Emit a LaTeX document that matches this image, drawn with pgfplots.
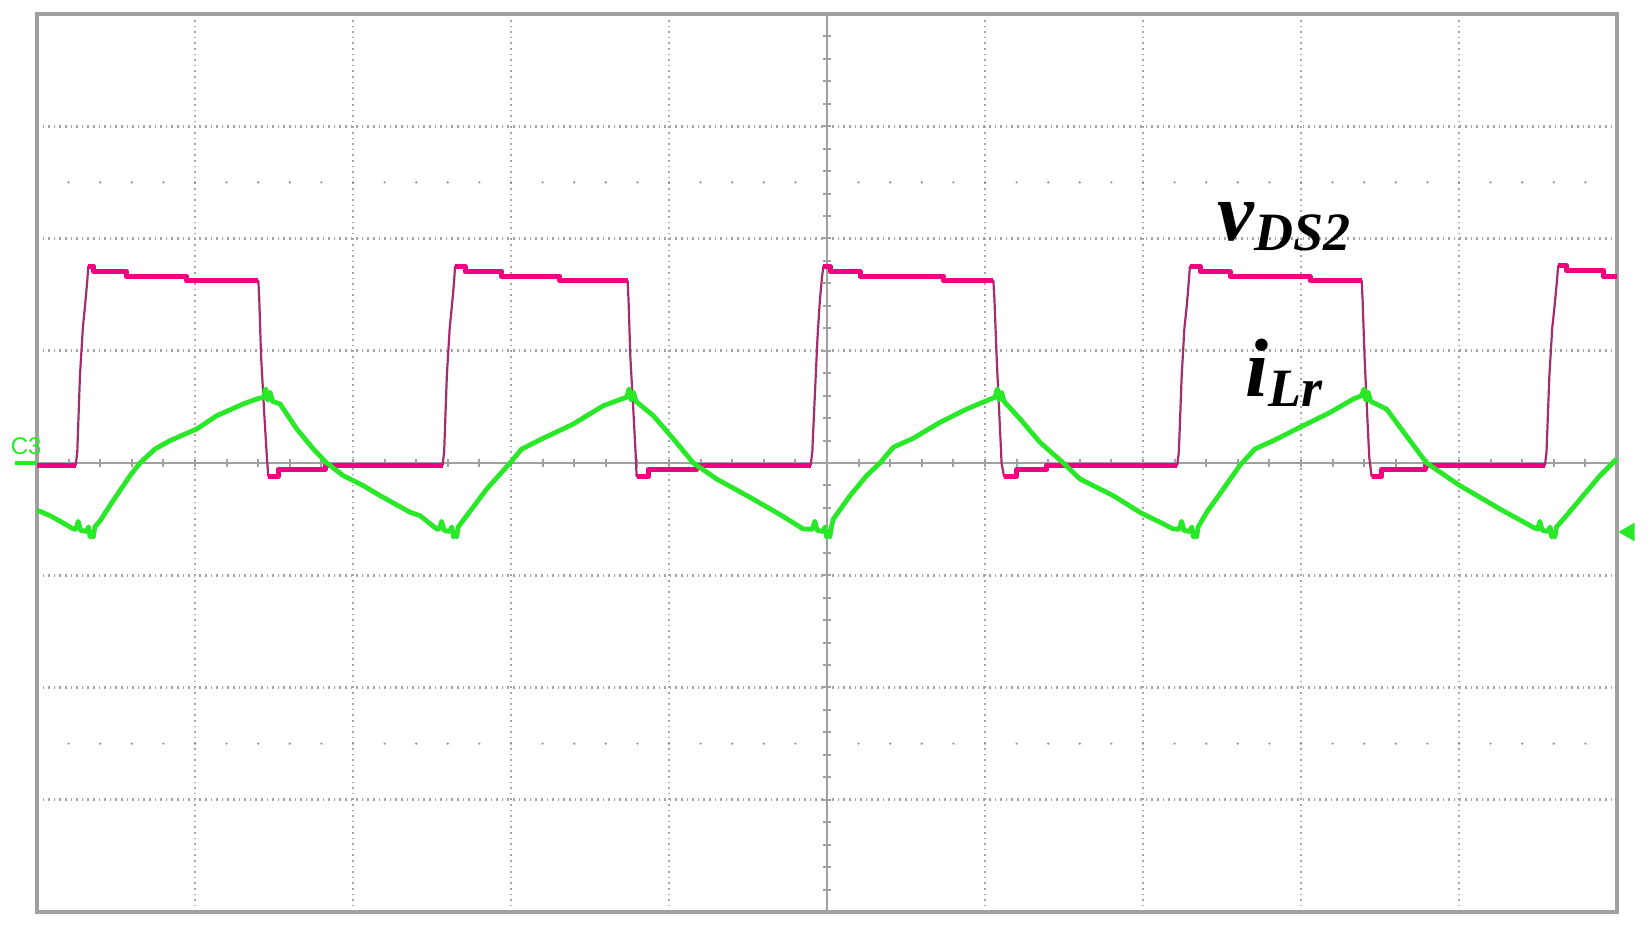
\documentclass[border=0pt]{standalone}
\usepackage{pgfplots}
\pgfplotsset{compat=1.18}
\usepackage{fontspec}
\setmainfont{Liberation Serif}
\setsansfont{Liberation Sans}
\definecolor{trmag}{RGB}{240,0,128}
\definecolor{trmauve}{RGB}{165,45,110}
\definecolor{trgreen}{RGB}{40,232,40}
\definecolor{gridgray}{RGB}{165,165,165}
\definecolor{boxgray}{RGB}{160,160,160}
\definecolor{dotgray}{RGB}{140,140,140}
\begin{document}
\begin{tikzpicture}
\begin{axis}[
  scale only axis, width=395pt, height=224.5pt,
  xmin=0, xmax=10, ymin=-4, ymax=4,
  xtick={1,...,9}, ytick={-3,...,3},
  xticklabels={}, yticklabels={},
  major tick length=0pt,
  grid=major,
  major grid style={densely dotted, gridgray, line width=0.65pt},
  axis line style={boxgray, line width=0.8pt},
  clip=false,
  unbounded coords=jump,
]
% dotted rows at +-2.5 div
\addplot[dotgray, line width=0.6pt, line cap=round, dash pattern=on 0pt off 7.9pt] coordinates {(0.2,2.5) (9.8,2.5)};
\addplot[dotgray, line width=0.6pt, line cap=round, dash pattern=on 0pt off 7.9pt] coordinates {(0.2,-2.5) (9.8,-2.5)};
% centre cross with minor ticks
\addplot[boxgray, line width=0.7pt] coordinates {(0,0) (10,0)};
\addplot[boxgray, line width=2pt, dash pattern=on 0.5pt off 7.4pt, dash phase=0.25pt] coordinates {(0,0) (10,0)};
\addplot[boxgray, line width=0.7pt] coordinates {(5,-4) (5,4)};
\addplot[boxgray, line width=2pt, dash pattern=on 0.5pt off 5.1125pt, dash phase=0.25pt] coordinates {(5,-4) (5,4)};

% v_DS2 thin full trace
\addplot[trmauve, line width=0.55pt, line join=round] coordinates {
(0,-0.02) (0.245,-0.02) (0.255,0.1) (0.272,0.78) (0.29,1.2) (0.304,1.40) (0.318,1.62) (0.325,1.752) (0.36,1.752) (0.36,1.704) (0.567,1.704) (0.567,1.663) (0.947,1.663) (0.947,1.624) (1.401,1.624) (1.407,1.45) (1.418,0.956) (1.44,0.4) (1.455,0.05) (1.464,-0.119) (1.527,-0.119) (1.527,-0.059) (1.823,-0.059) (1.823,-0.02)
(2.567,-0.02) (2.577,0.1) (2.594,0.78) (2.612,1.2) (2.626,1.40) (2.64,1.62) (2.646,1.752) (2.709,1.752) (2.709,1.704) (2.941,1.704) (2.941,1.663) (3.31,1.663) (3.31,1.624) (3.738,1.624) (3.744,1.45) (3.755,0.956) (3.777,0.4) (3.79,0.05) (3.795,-0.119) (3.869,-0.119) (3.869,-0.059) (4.175,-0.059) (4.175,-0.02)
(4.897,-0.02) (4.907,0.1) (4.922,0.57) (4.940,1.12) (4.955,1.45) (4.968,1.65) (4.977,1.752) (5.02,1.752) (5.02,1.704) (5.209,1.704) (5.209,1.663) (5.736,1.663) (5.736,1.624) (6.053,1.624) (6.06,1.45) (6.075,0.9) (6.095,0.3) (6.105,0.0) (6.12,-0.119) (6.2,-0.119) (6.2,-0.059) (6.39,-0.059) (6.39,-0.02)
(7.217,-0.02) (7.227,0.1) (7.245,0.78) (7.262,1.2) (7.277,1.40) (7.29,1.62) (7.297,1.752) (7.361,1.752) (7.361,1.704) (7.551,1.704) (7.551,1.663) (8.057,1.663) (8.057,1.624) (8.384,1.624) (8.39,1.45) (8.402,0.956) (8.42,0.4) (8.432,0.05) (8.447,-0.119) (8.51,-0.119) (8.51,-0.059) (8.785,-0.059) (8.785,-0.02)
(9.544,-0.02) (9.554,0.1) (9.572,0.78) (9.59,1.2) (9.605,1.40) (9.62,1.62) (9.628,1.758) (9.681,1.758) (9.681,1.713) (9.913,1.713) (9.913,1.663) (10,1.663)
};
% v_DS2 thick plateaus
\addplot[trmag, line width=1.25pt, line join=round] coordinates {
(0,-0.02) (0.245,-0.02) (0.28,nan)
(0.325,1.752) (0.36,1.752) (0.36,1.704) (0.567,1.704) (0.567,1.663) (0.947,1.663) (0.947,1.624) (1.401,1.624) (1.43,nan)
(1.464,-0.119) (1.527,-0.119) (1.527,-0.059) (1.823,-0.059) (1.823,-0.02) (2.567,-0.02) (2.6,nan)
(2.646,1.752) (2.709,1.752) (2.709,1.704) (2.941,1.704) (2.941,1.663) (3.31,1.663) (3.31,1.624) (3.738,1.624) (3.76,nan)
(3.795,-0.119) (3.869,-0.119) (3.869,-0.059) (4.175,-0.059) (4.175,-0.02) (4.897,-0.02) (4.93,nan)
(4.977,1.752) (5.02,1.752) (5.02,1.704) (5.209,1.704) (5.209,1.663) (5.736,1.663) (5.736,1.624) (6.053,1.624) (6.08,nan)
(6.12,-0.119) (6.2,-0.119) (6.2,-0.059) (6.39,-0.059) (6.39,-0.02) (7.217,-0.02) (7.25,nan)
(7.297,1.752) (7.361,1.752) (7.361,1.704) (7.551,1.704) (7.551,1.663) (8.057,1.663) (8.057,1.624) (8.384,1.624) (8.41,nan)
(8.447,-0.119) (8.51,-0.119) (8.51,-0.059) (8.785,-0.059) (8.785,-0.02) (9.544,-0.02) (9.58,nan)
(9.628,1.758) (9.681,1.758) (9.681,1.713) (9.913,1.713) (9.913,1.663) (10,1.663)
};

% i_Lr
\addplot[trgreen, line width=1.2pt, line join=round] coordinates {
(0,-0.42) (0.082,-0.469) (0.16,-0.53) (0.23,-0.588)
(0.246,-0.59) (0.261,-0.52) (0.276,-0.6) (0.311,-0.61) (0.326,-0.57) (0.336,-0.66) (0.346,-0.62) (0.356,-0.66) (0.366,-0.57)
(0.40,-0.514) (0.462,-0.378) (0.589,-0.113) (0.652,0) (0.747,0.125) (0.842,0.199) (1.011,0.303) (1.137,0.421) (1.306,0.526) (1.39,0.57) (1.433,0.585) (1.448,0.66) (1.46,0.56) (1.475,0.63) (1.49,0.55)
(1.538,0.526) (1.644,0.303) (1.749,0.125) (1.833,0) (1.939,-0.113) (2.065,-0.202) (2.171,-0.291) (2.361,-0.439) (2.424,-0.469) (2.53,-0.588)
(2.546,-0.59) (2.561,-0.52) (2.576,-0.6) (2.611,-0.61) (2.626,-0.57) (2.636,-0.66) (2.646,-0.62) (2.656,-0.66) (2.666,-0.57)
(2.72,-0.469) (2.846,-0.232) (2.994,0) (3.068,0.125) (3.204,0.22) (3.394,0.347) (3.584,0.51) (3.70,0.57) (3.732,0.585) (3.747,0.66) (3.76,0.56) (3.775,0.63) (3.79,0.55)
(3.901,0.421) (4.028,0.214) (4.154,0) (4.302,-0.143) (4.513,-0.306) (4.703,-0.46) (4.85,-0.588)
(4.908,-0.59) (4.923,-0.52) (4.938,-0.6) (4.973,-0.61) (4.988,-0.57) (4.998,-0.66) (5.008,-0.62) (5.018,-0.66) (5.028,-0.57)
(5.04,-0.5) (5.146,-0.291) (5.251,-0.113) (5.335,0) (5.42,0.14) (5.546,0.22) (5.715,0.362) (5.884,0.48) (6.01,0.555) (6.063,0.585) (6.078,0.66) (6.09,0.56) (6.105,0.63) (6.12,0.55)
(6.222,0.392) (6.348,0.184) (6.496,0) (6.601,-0.143) (6.812,-0.291) (6.981,-0.44) (7.087,-0.514) (7.192,-0.588)
(7.229,-0.59) (7.244,-0.52) (7.259,-0.6) (7.294,-0.61) (7.309,-0.57) (7.319,-0.66) (7.329,-0.62) (7.339,-0.66) (7.349,-0.57)
(7.403,-0.44) (7.508,-0.232) (7.614,-0.02) (7.709,0.125) (7.825,0.199) (8.015,0.333) (8.184,0.45) (8.331,0.57) (8.384,0.6) (8.399,0.66) (8.41,0.56) (8.425,0.63) (8.44,0.55)
(8.542,0.48) (8.668,0.24) (8.795,0) (9.006,-0.202) (9.259,-0.41) (9.47,-0.573)
(9.497,-0.59) (9.512,-0.52) (9.527,-0.6) (9.562,-0.61) (9.577,-0.57) (9.587,-0.66) (9.597,-0.62) (9.607,-0.66) (9.617,-0.57)
(9.68,-0.469) (9.786,-0.291) (9.892,-0.113) (9.998,0.036)
};

% channel marker and trigger marker
\addplot[trgreen, line width=1.1pt] coordinates {(-0.14,0) (0,0)};
\addplot[only marks, mark=triangle*, mark size=2.3pt, mark options={rotate=90, fill=trgreen, draw=trgreen}] coordinates {(10.077,-0.615)};
\node[anchor=base west, inner sep=0pt, text=trgreen, font=\sffamily\fontsize{6}{6}\selectfont] at (axis cs:-0.171,0.08) {C3};

% labels
\node[anchor=base west, inner sep=0pt, font=\bfseries\itshape\fontsize{20.7}{22}\selectfont] at (axis cs:7.468,1.978) {v\raisebox{-2.5pt}{\fontsize{13.5}{14}\selectfont DS2}};
\node[anchor=base west, inner sep=0pt, font=\bfseries\itshape\fontsize{20.7}{22}\selectfont] at (axis cs:7.646,0.588) {i\raisebox{-2.5pt}{\fontsize{13.5}{14}\selectfont Lr}};
\end{axis}
\pgfresetboundingbox
\path ([shift={(-9.25pt,-4.5pt)}]current axis.south west) rectangle ([shift={(8.5pt,3.5pt)}]current axis.north east);
\end{tikzpicture}
\end{document}
